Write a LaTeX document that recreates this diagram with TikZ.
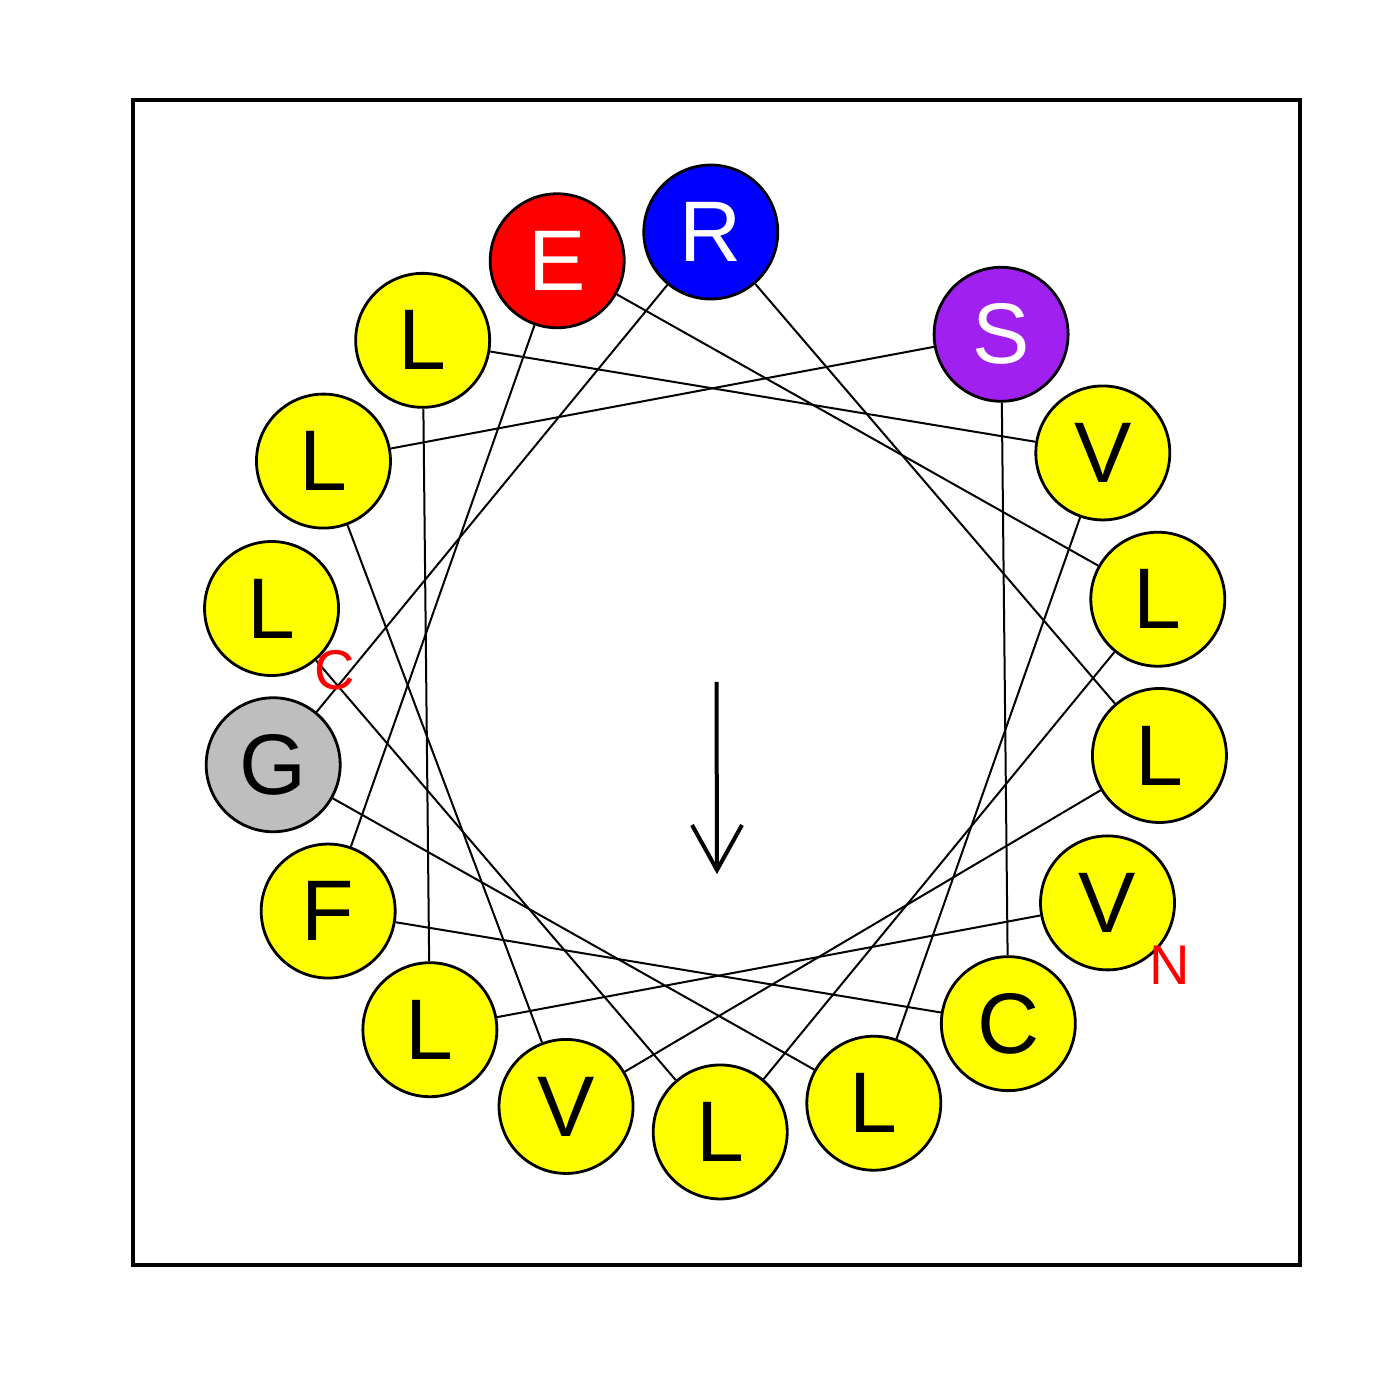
\documentclass[tikz,border=0pt]{standalone}
\usepackage{fontspec}
\setmainfont{Liberation Sans}
\definecolor{rpurple}{RGB}{160,32,240}
\definecolor{rgray}{RGB}{190,190,190}
\definecolor{ryellow}{RGB}{255,255,0}
\definecolor{rred}{RGB}{255,0,0}
\definecolor{rblue}{RGB}{0,0,255}
\tikzset{
  residue/.style={circle,draw=black,line width=1.4pt,minimum size=67pt,inner sep=0pt,
    font=\fontsize{43}{43}\selectfont},
  link/.style={line width=1pt},
  termlabel/.style={text=rred,font=\fontsize{28}{28}\selectfont,inner sep=0pt}
}
\begin{document}
\begin{tikzpicture}[x=0.5pt,y=0.5pt]
\useasboundingbox (-715.5,-718) rectangle (684.5,682);
\draw[line width=1.6pt] (-582.5,582) rectangle (584.5,-583);
\foreach \n/\aa/\fc/\tc in {1/V/ryellow/black,2/L/ryellow/black,3/L/ryellow/black,4/V/ryellow/black,
  5/L/ryellow/black,6/G/rgray/black,7/R/rblue/white,8/L/ryellow/black,9/V/ryellow/black,
  10/L/ryellow/black,11/S/rpurple/white,12/C/ryellow/black,13/F/ryellow/black,14/E/rred/white,
  15/L/ryellow/black,16/L/ryellow/black,17/L/ryellow/black}{
  \pgfmathsetmacro\ang{330.6-100*(\n-1)}
  \node[residue,fill=\fc,text=\tc] (r\n) at (\ang:450) {\aa};
}
\foreach \n [evaluate=\n as \m using int(\n+1)] in {1,...,16}{
  \draw[link] (r\n) -- (r\m);
}
\node[termlabel] (nlab) at (454.5,-283) {N};
\node[termlabel] (clab) at (-380.5,12) {C};
\coordinate (atail) at (1,0);
\coordinate (ahead) at (1.5,-188);
\coordinate (aleft) at (-23.5,-143);
\coordinate (aright) at (26.5,-143);
\draw[line width=2pt] (atail) -- (ahead);
\draw[line width=2pt,line join=miter] (aleft) -- (ahead) -- (aright);
\end{tikzpicture}
\end{document}
